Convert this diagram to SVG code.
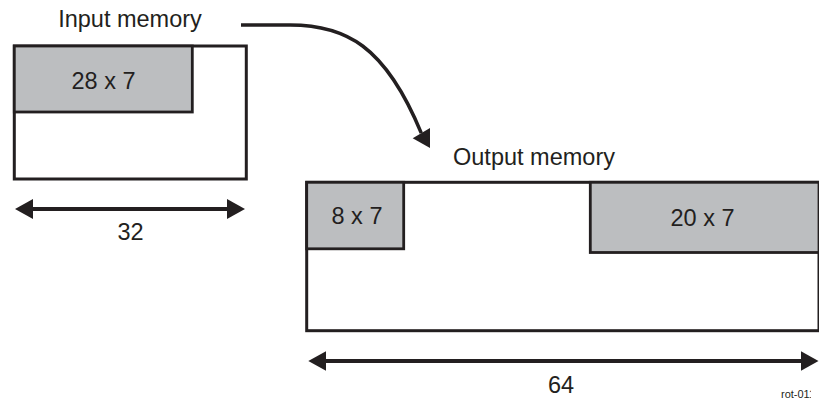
<svg xmlns="http://www.w3.org/2000/svg" width="819" height="402" viewBox="0 0 819 402">
<style>
.box{fill:#ffffff;stroke:#231f20;stroke-width:3}
.blk{fill:#bcbec0;stroke:#231f20;stroke-width:2.8}
.lbl{font-family:"Liberation Sans",Arial,sans-serif;font-size:23.5px;fill:#231f20;text-anchor:middle}
.dim{stroke:#231f20;stroke-width:4;fill:none}
.cur{stroke:#231f20;stroke-width:3.5;fill:none}
.tag{font-family:"Liberation Sans",Arial,sans-serif;font-size:11px;fill:#231f20}
</style>
<defs>
<marker id="ah" viewBox="0 0 18 20" refX="8" refY="10" markerWidth="18" markerHeight="20" markerUnits="userSpaceOnUse" orient="auto-start-reverse">
<path d="M0,0 L18,10 L0,20 Z" fill="#231f20"/>
</marker>
<clipPath id="tagclip"><rect x="770" y="380" width="41" height="22"/></clipPath>
</defs>
<g id="input-memory">
<text class="lbl" x="130" y="27">Input memory</text>
<rect class="box" x="14.3" y="46" width="232" height="133"/>
<rect class="blk" x="14.3" y="46" width="178" height="66"/>
<text class="lbl" x="103.5" y="88.5">28 x 7</text>
</g>
<g id="output-memory">
<text class="lbl" x="534" y="165">Output memory</text>
<rect class="box" x="306.7" y="182.3" width="512.3" height="148.4"/>
<rect class="blk" x="306.7" y="182.3" width="97" height="66.5"/>
<text class="lbl" x="357" y="223.5">8 x 7</text>
<rect class="blk" x="590.3" y="182.3" width="228.7" height="70.2"/>
<text class="lbl" x="702.5" y="226">20 x 7</text>
</g>
<g id="connectors">
<path class="cur" d="M241,25 L290,25 C345,25 385,45 421.3,133.2"/>
<polygon points="430,148 412.7,138.3 430,128" fill="#231f20"/>
<line class="dim" x1="25" y1="209" x2="235" y2="209" marker-start="url(#ah)" marker-end="url(#ah)"/>
<text class="lbl" x="130.5" y="240">32</text>
<line class="dim" x1="318.3" y1="361" x2="808.5" y2="361" marker-start="url(#ah)" marker-end="url(#ah)"/>
<text class="lbl" x="561" y="393">64</text>
</g>
<text class="tag" x="781" y="398" clip-path="url(#tagclip)">rot-011</text>
</svg>
